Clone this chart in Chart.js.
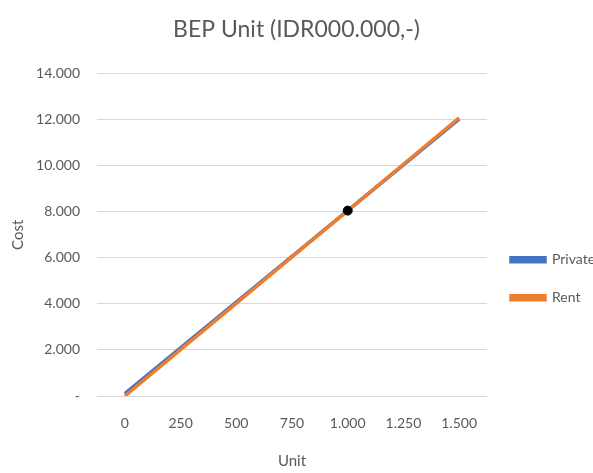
<!DOCTYPE html>
<html>
<head>
<meta charset="utf-8">
<script src="https://cdn.jsdelivr.net/npm/chart.js@4"></script>
<style>
html,body{margin:0;padding:0;background:#fff;}
#wrap{width:593px;height:473px;}
</style>
</head>
<body>
<div id="wrap"><canvas id="bepChart"></canvas></div>
<script>
// values
const units = ["0","250","500","750","1.000","1.250","1.500"];
const privateCost = [100, 2088, 4075, 6063, 8050, 10038, 12025];
const rentCost = [0, 2013, 4025, 6038, 8050, 10063, 12075];
const bepPoint = [null, null, null, null, 8050, null, null];
const yTicks = [0, 2000, 4000, 6000, 8000, 10000, 12000, 14000];

const grey = "#595959";
const font = "Lato, 'Open Sans', sans-serif";

function fmt(v){
  if(v===0) return "-";
  return v.toLocaleString("en-US").replace(/,/g,".");
}

new Chart(document.getElementById("bepChart"),{
  type:"line",
  data:{
    labels:units,
    datasets:[
      {label:"BEP",data:bepPoint,borderColor:"#000",backgroundColor:"#000",
       pointRadius:4.5,pointHoverRadius:4.5,showLine:false,order:0},
      {label:"Private",data:privateCost,borderColor:"#4472C4",backgroundColor:"#4472C4",
       borderWidth:3.5,pointRadius:0,order:2},
      {label:"Rent",data:rentCost,borderColor:"#ED7D31",backgroundColor:"#ED7D31",
       borderWidth:3.5,pointRadius:0,order:1}
    ]
  },
  options:{
    responsive:true,
    maintainAspectRatio:false,
    animation:false,
    layout:{padding:{left:0,right:0,top:10,bottom:0}},
    plugins:{
      title:{display:true,text:"BEP Unit (IDR000.000,-)",color:grey,
        font:{family:font,size:23,weight:"normal"},padding:{top:6,bottom:30}},
      legend:{
        position:"right",
        maxWidth:106,
        title:{display:true,text:"",padding:{top:30,bottom:30}},
        labels:{
          color:grey,font:{family:font,size:14},
          boxWidth:34,boxHeight:4,padding:24,
          filter:item=>item.text!=="BEP",
          sort:(a,b)=>a.datasetIndex-b.datasetIndex
        }
      },
      tooltip:{enabled:false}
    },
    scales:{
      x:{
        offset:true,
        afterFit:ax=>{ax.height=77;},
        grid:{display:false,drawTicks:false},
        border:{display:false},
        ticks:{color:grey,font:{family:font,size:14},padding:19},
        title:{display:true,text:"Unit",color:grey,font:{family:font,size:15},padding:{top:0,bottom:3}}
      },
      y:{
        min:0,max:14000,
        afterFit:ax=>{ax.width=97;},
        afterBuildTicks:ax=>{ax.ticks=yTicks.map(v=>({value:v}));},
        grid:{color:"#d9d9d9",drawTicks:false,lineWidth:1},
        border:{display:false},
        ticks:{color:grey,font:{family:font,size:14},padding:17,callback:v=>fmt(v)},
        title:{display:true,text:"Cost",color:grey,font:{family:font,size:15},padding:{top:9,bottom:0}}
      }
    }
  }
});
</script>
</body>
</html>
